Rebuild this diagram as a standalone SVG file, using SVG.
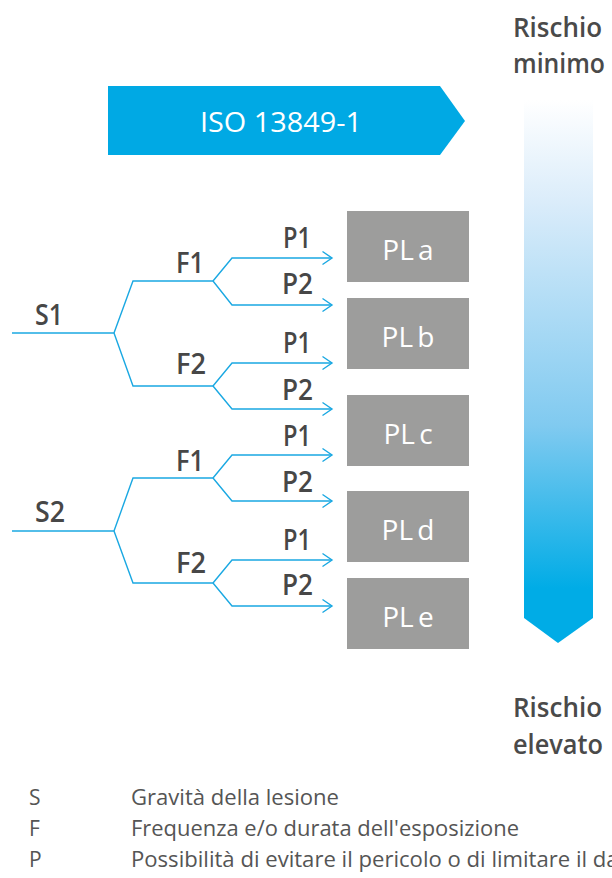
<svg xmlns="http://www.w3.org/2000/svg" width="612" height="878" viewBox="0 0 612 878">
<style>
.lbl{font-family:"Open Sans","Noto Sans","Liberation Sans",sans-serif;font-size:28px;font-weight:600;fill:#474747}
.pl{font-family:"Open Sans","Noto Sans","Liberation Sans",sans-serif;font-size:28px;font-weight:400;fill:#ffffff;text-anchor:middle;word-spacing:-3px}
.box{fill:#9d9d9c}
.risk{font-family:"Open Sans","Noto Sans","Liberation Sans",sans-serif;font-size:27px;font-weight:600;fill:#4a4a4a}
.leg{font-family:"Open Sans","Noto Sans","Liberation Sans",sans-serif;font-size:21px;font-weight:400;fill:#555555}
.wire{fill:none;stroke:#1aa8e2;stroke-width:1.4;stroke-linejoin:miter}
.arr{marker-end:url(#chev)}
</style>
<defs>
<marker id="chev" viewBox="0 0 11 16" refX="10" refY="8" markerWidth="11" markerHeight="16" markerUnits="userSpaceOnUse" orient="auto" overflow="visible">
<path d="M0.5,1.5 L10,8 L0.5,14.5" fill="none" stroke="#1aa8e2" stroke-width="1.4"/>
</marker>
<linearGradient id="riskGrad" x1="0" y1="100" x2="0" y2="643" gradientUnits="userSpaceOnUse">
<stop offset="0" stop-color="#ffffff"/>
<stop offset="0.19" stop-color="#daecfa"/>
<stop offset="0.6" stop-color="#80caf0"/>
<stop offset="0.9" stop-color="#00ace6"/>
<stop offset="1" stop-color="#00ace6"/>
</linearGradient>
</defs>

<g id="iso-banner">
<polygon points="108,86 440,86 465,121 440,155 108,155" fill="#00a9e4"/>
<text x="281" y="132" text-anchor="middle" style="font-family:'Open Sans','Noto Sans','Liberation Sans',sans-serif;font-size:28px;fill:#ffffff" textLength="162" lengthAdjust="spacingAndGlyphs">ISO 13849-1</text>
</g>

<g id="risk-bar">
<polygon points="524,100 593,100 593,618 558,643 524,618" fill="url(#riskGrad)"/>
</g>

<g id="risk-min">
<text class="risk" x="513" y="37" textLength="89" lengthAdjust="spacingAndGlyphs">Rischio</text>
<text class="risk" x="513" y="73" textLength="92" lengthAdjust="spacingAndGlyphs">minimo</text>
</g>
<g id="risk-max">
<text class="risk" x="513" y="717" textLength="89" lengthAdjust="spacingAndGlyphs">Rischio</text>
<text class="risk" x="513" y="754" textLength="90" lengthAdjust="spacingAndGlyphs">elevato</text>
</g>

<g id="connectors">
<path class="wire" d="M12,333 L114,333"/>
<path class="wire" d="M114,333 L133,281 L213,281"/>
<path class="wire" d="M114,333 L133,386 L213,386"/>
<path class="wire arr" d="M213,281 L232,258 L332,258"/>
<path class="wire arr" d="M213,281 L232,305 L332,305"/>
<path class="wire arr" d="M213,386 L232,363 L332,363"/>
<path class="wire arr" d="M213,386 L232,409 L332,409"/>
<path class="wire" d="M12,531 L114,531"/>
<path class="wire" d="M114,531 L133,478 L213,478"/>
<path class="wire" d="M114,531 L133,583 L213,583"/>
<path class="wire arr" d="M213,478 L232,455 L332,455"/>
<path class="wire arr" d="M213,478 L232,501 L332,501"/>
<path class="wire arr" d="M213,583 L232,560 L332,560"/>
<path class="wire arr" d="M213,583 L232,606 L332,606"/>
</g>

<g id="S1"><text class="lbl" x="35" y="325" textLength="28" lengthAdjust="spacingAndGlyphs">S1</text></g>
<g id="S1-F1"><text class="lbl" x="176" y="273" textLength="28" lengthAdjust="spacingAndGlyphs">F1</text></g>
<g id="S1-F2"><text class="lbl" x="176" y="374" textLength="30" lengthAdjust="spacingAndGlyphs">F2</text></g>
<g id="S1-F1-P1"><text class="lbl" x="283" y="248" textLength="28" lengthAdjust="spacingAndGlyphs">P1</text></g>
<g id="S1-F1-P2"><text class="lbl" x="282" y="294" textLength="31" lengthAdjust="spacingAndGlyphs">P2</text></g>
<g id="S1-F2-P1"><text class="lbl" x="283" y="353" textLength="28" lengthAdjust="spacingAndGlyphs">P1</text></g>
<g id="S1-F2-P2"><text class="lbl" x="282" y="400" textLength="31" lengthAdjust="spacingAndGlyphs">P2</text></g>

<g id="S2"><text class="lbl" x="35" y="522" textLength="30" lengthAdjust="spacingAndGlyphs">S2</text></g>
<g id="S2-F1"><text class="lbl" x="176" y="471" textLength="28" lengthAdjust="spacingAndGlyphs">F1</text></g>
<g id="S2-F2"><text class="lbl" x="176" y="573" textLength="30" lengthAdjust="spacingAndGlyphs">F2</text></g>
<g id="S2-F1-P1"><text class="lbl" x="283" y="446" textLength="28" lengthAdjust="spacingAndGlyphs">P1</text></g>
<g id="S2-F1-P2"><text class="lbl" x="282" y="492" textLength="31" lengthAdjust="spacingAndGlyphs">P2</text></g>
<g id="S2-F2-P1"><text class="lbl" x="283" y="550" textLength="28" lengthAdjust="spacingAndGlyphs">P1</text></g>
<g id="S2-F2-P2"><text class="lbl" x="282" y="595" textLength="31" lengthAdjust="spacingAndGlyphs">P2</text></g>

<g id="PLa"><rect class="box" x="347" y="211" width="122" height="71"/><text class="pl" x="408" y="260">PL a</text></g>
<g id="PLb"><rect class="box" x="347" y="298" width="122" height="71"/><text class="pl" x="408" y="347">PL b</text></g>
<g id="PLc"><rect class="box" x="347" y="395" width="122" height="71"/><text class="pl" x="408" y="444">PL c</text></g>
<g id="PLd"><rect class="box" x="347" y="491" width="122" height="71"/><text class="pl" x="408" y="540">PL d</text></g>
<g id="PLe"><rect class="box" x="347" y="578" width="122" height="71"/><text class="pl" x="408" y="627">PL e</text></g>

<g id="legend">
<text class="leg" x="29" y="805">S</text>
<text class="leg" x="131" y="805" textLength="208" lengthAdjust="spacingAndGlyphs">Gravità della lesione</text>
<text class="leg" x="29" y="836">F</text>
<text class="leg" x="131" y="836" textLength="388" lengthAdjust="spacingAndGlyphs">Frequenza e/o durata dell'esposizione</text>
<text class="leg" x="29" y="867">P</text>
<text class="leg" x="131" y="867" textLength="528" lengthAdjust="spacingAndGlyphs">Possibilità di evitare il pericolo o di limitare il danno</text>
</g>
</svg>
